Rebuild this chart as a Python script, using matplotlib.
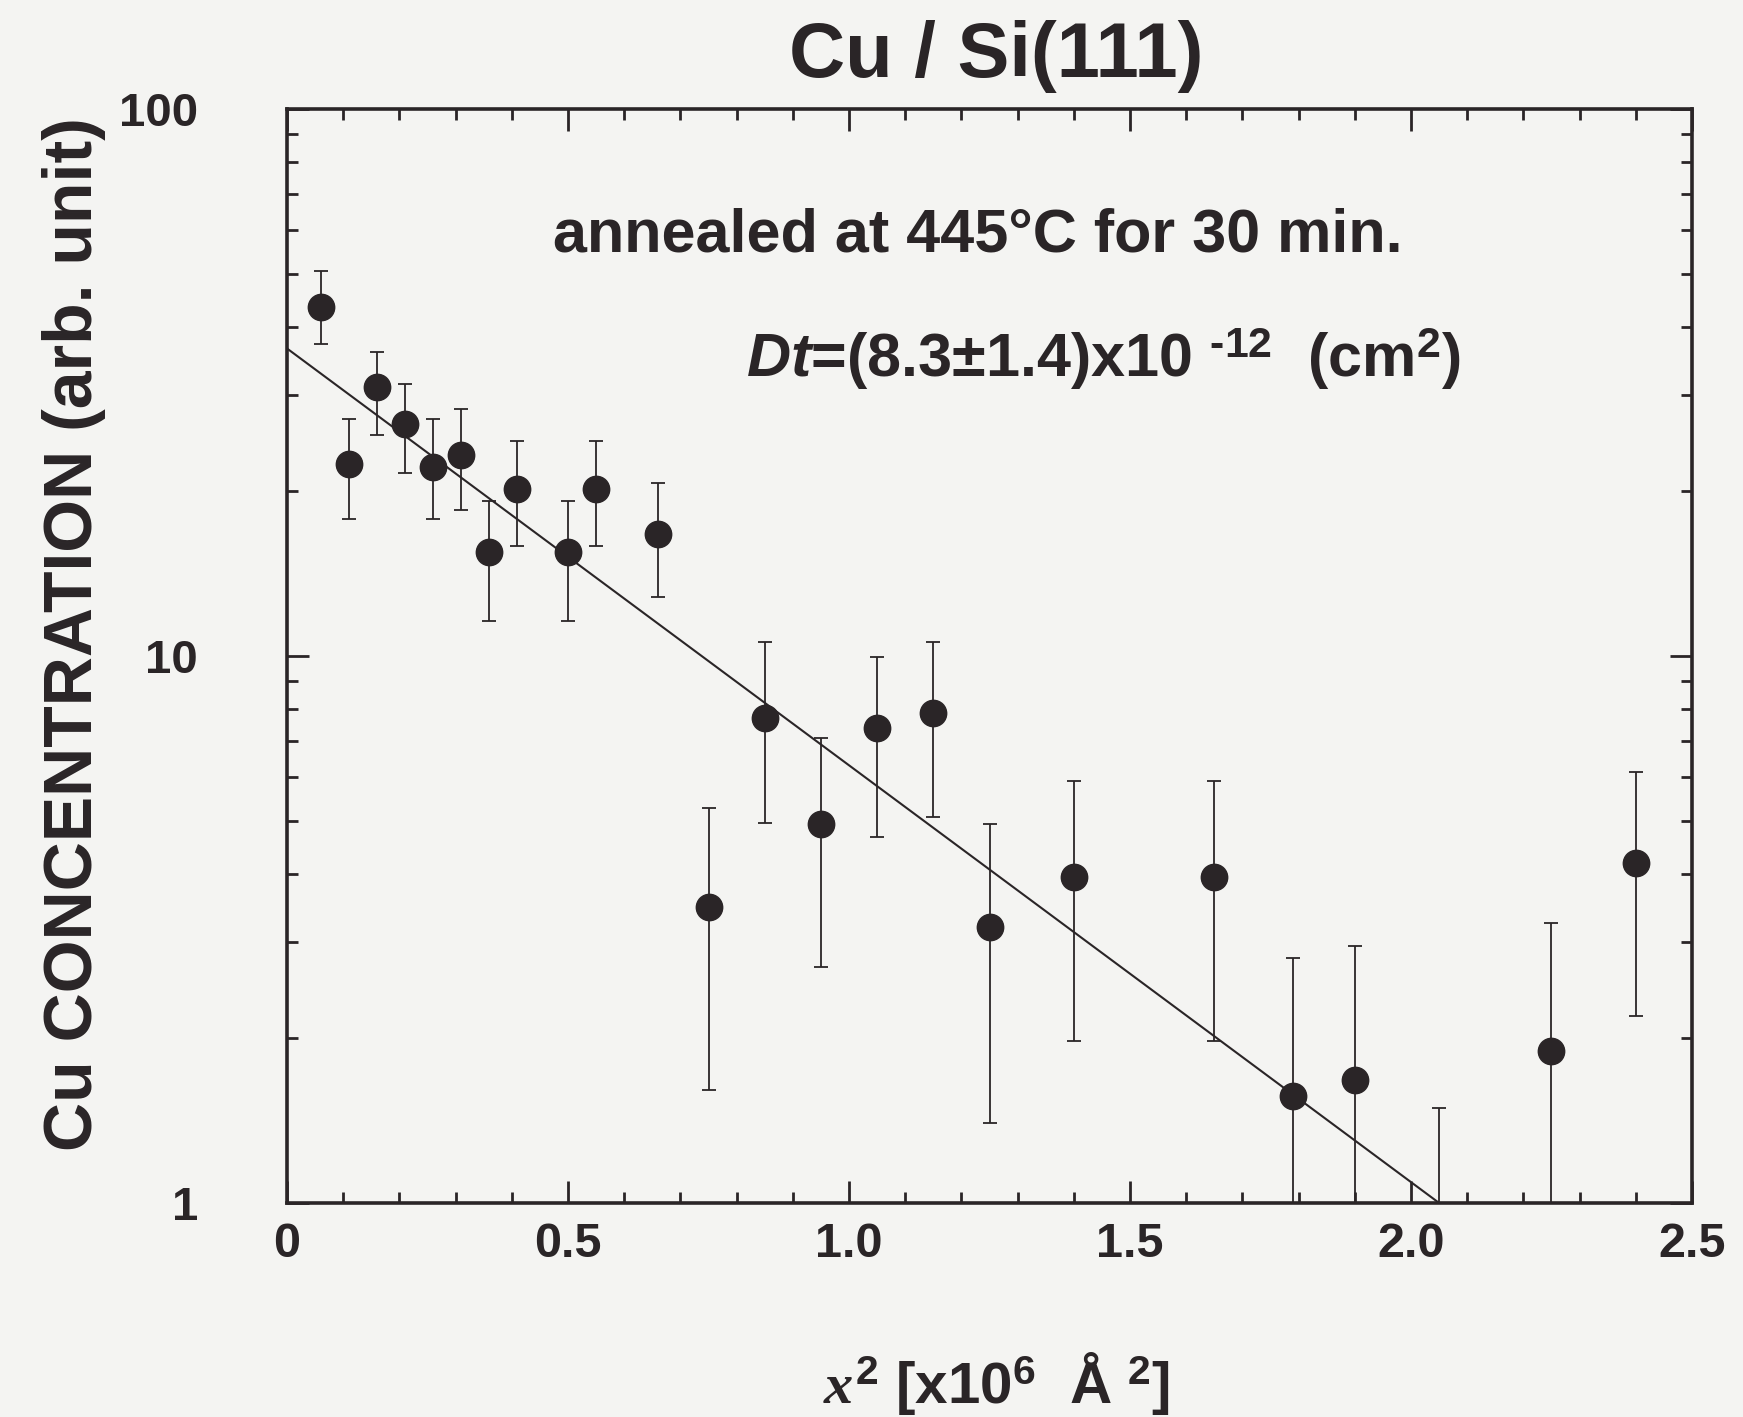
import numpy as np
import matplotlib
matplotlib.use('Agg')
import matplotlib.pyplot as plt
from matplotlib.ticker import MultipleLocator, LogLocator, NullFormatter, FixedLocator, FixedFormatter

plt.rcParams['font.family'] = ['Liberation Sans', 'DejaVu Sans']
plt.rcParams['font.weight'] = 'bold'
plt.rcParams['mathtext.fontset'] = 'custom'
plt.rcParams['mathtext.rm'] = 'Liberation Sans:bold'
plt.rcParams['mathtext.bf'] = 'Liberation Sans:bold'
plt.rcParams['mathtext.it'] = 'Liberation Serif:italic'
plt.rcParams['mathtext.sf'] = 'Liberation Sans:bold:italic'

# x^2 in units of 1e6 A^2, concentration in arb. units
x_sq = [0.06, 0.11, 0.16, 0.21, 0.26, 0.31, 0.36, 0.41, 0.50, 0.55, 0.66, 0.75,
        0.85, 0.95, 1.05, 1.15, 1.25, 1.40, 1.65, 1.79, 1.90, 2.05, 2.25, 2.40]
conc = [43.5, 22.4, 31.0, 26.6, 22.2, 23.3, 15.5, 20.2, 15.5, 20.2, 16.7, 3.47,
        7.69, 4.93, 7.38, 7.87, 3.19, 3.94, 3.94, 1.57, 1.68, 0.70, 1.90, 4.19]
err_hi = [50.5, 27.1, 36.0, 31.5, 27.1, 28.3, 19.2, 24.7, 19.2, 24.7, 20.7, 5.27,
          10.6, 7.08, 9.95, 10.6, 4.93, 5.92, 5.92, 2.80, 2.95, 1.49, 3.25, 6.15]
err_lo = [37.2, 17.8, 25.4, 21.6, 17.8, 18.5, 11.6, 15.9, 11.6, 15.9, 12.8, 1.61,
          4.95, 2.70, 4.67, 5.07, 1.40, 1.98, 1.98, 0.40, 0.45, 0.20, 0.60, 2.20]

# fitted line: C = C0 * 10**(-k * x^2)
fit_c0 = 36.5
fit_k = 0.762

ink = '#2a2527'
bg = '#f4f4f2'

fig = plt.figure(figsize=(17.43, 14.17), dpi=100, facecolor=bg)
ax = fig.add_axes([0.1647, 0.151, 0.806, 0.772], facecolor=bg)

conc = np.array(conc)
yerr = [conc - np.array(err_lo), np.array(err_hi) - conc]
ax.errorbar(x_sq, conc, yerr=yerr, fmt='o', color=ink, ms=19, elinewidth=1.3,
            capsize=5, capthick=1.3, zorder=3)

xf = np.linspace(0, 2.5, 200)
ax.plot(xf, fit_c0 * 10 ** (-fit_k * xf), color=ink, lw=1.5, zorder=2)

ax.set_yscale('log')
ax.set_xlim(0, 2.5)
ax.set_ylim(1, 100)

ax.xaxis.set_major_locator(FixedLocator([0, 0.5, 1.0, 1.5, 2.0, 2.5]))
ax.xaxis.set_major_formatter(FixedFormatter(['0', '0.5', '1.0', '1.5', '2.0', '2.5']))
ax.xaxis.set_minor_locator(MultipleLocator(0.1))
ax.yaxis.set_major_locator(FixedLocator([1, 10, 100]))
ax.yaxis.set_major_formatter(FixedFormatter(['1', '10', '100']))
ax.yaxis.set_minor_locator(LogLocator(base=10, subs=np.arange(2, 10)))
ax.yaxis.set_minor_formatter(NullFormatter())

ax.tick_params(which='both', direction='in', top=True, right=True, colors=ink)
ax.tick_params(which='major', length=16, width=2)
ax.tick_params(which='minor', length=8, width=2)
ax.tick_params(axis='x', which='major', labelsize=35, pad=14)
ax.tick_params(axis='y', which='major', labelsize=34, pad=64)
for s in ax.spines.values():
    s.set_linewidth(2.6)
    s.set_color(ink)

ax.text(0.505, 1.048, 'Cu / Si(111)', transform=ax.transAxes, ha='center', va='center',
        fontsize=56, color=ink)
ax.set_ylabel('Cu CONCENTRATION (arb. unit)', fontsize=49, fontweight='bold', color=ink, va='center')
ax.yaxis.set_label_coords(-0.152, 0.52)
ax.set_xlabel(r'$\mathit{x}^{2}$ [x10$^{6}$  Å $^{2}$]', fontsize=42, fontweight='bold', color=ink, va='center')
ax.xaxis.set_label_coords(0.505, -0.165)

ax.text(0.492, 0.884, 'annealed at 445°C for 30 min.', transform=ax.transAxes,
        ha='center', va='center', fontsize=44, color=ink)
ax.text(0.581, 0.772, r'$\mathsf{Dt}$=(8.3±1.4)x10 $^{‐12}$  (cm$^{2}$)', transform=ax.transAxes,
        ha='center', va='center', fontsize=44, color=ink)

fig.savefig('out.png', dpi=100, facecolor=bg)
